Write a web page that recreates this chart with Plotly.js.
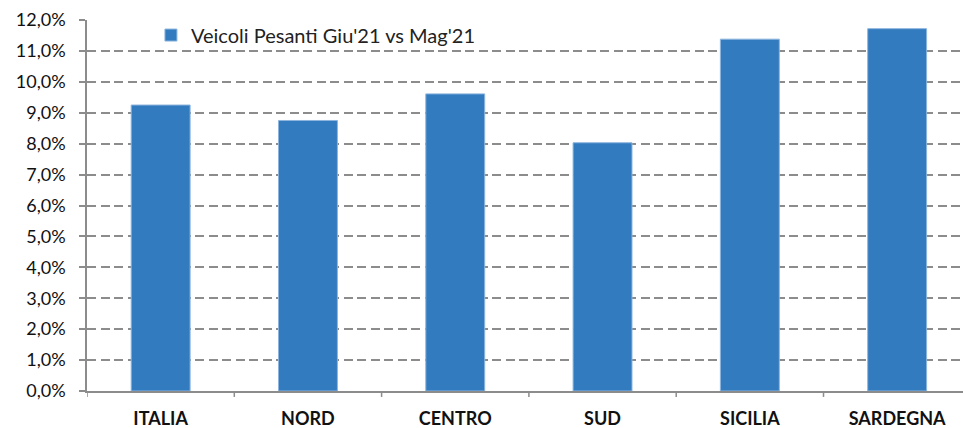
<!DOCTYPE html>
<html><head><meta charset="utf-8">
<script src="https://cdn.plot.ly/plotly-3.0.1.min.js"></script>
<style>body{margin:0;background:#fff}#c{width:963px;height:428px}</style>
</head><body><div id="c"></div>
<script>
const categories = ["ITALIA","NORD","CENTRO","SUD","SICILIA","SARDEGNA"];
const values = [0.0925, 0.0875, 0.0961, 0.0803, 0.1138, 0.1172];
const seriesName = "Veicoli Pesanti Giu'21 vs Mag'21";
const yTickVals = [0,0.01,0.02,0.03,0.04,0.05,0.06,0.07,0.08,0.09,0.10,0.11,0.12];
const yTickText = yTickVals.map(v => (v*100).toFixed(1).replace('.', ',') + '%');

const tickShapes = [];
for (let i = 0; i < categories.length; i++) {
  tickShapes.push({
    type: 'line', xref: 'x', yref: 'paper', x0: i - 0.5, x1: i - 0.5, y0: 0, y1: -0.016,
    line: {color: '#8c8c8c', width: 1.5}
  });
}

Plotly.newPlot('c', [{
  type: 'bar', x: categories, y: values, name: seriesName,
  marker: {color: '#327BBF', line: {color: '#8DB5DE', width: 1}},
  showlegend: true
}], {
  width: 963, height: 428,
  margin: {l: 87, r: 0, t: 20, b: 37},
  paper_bgcolor: '#fff', plot_bgcolor: '#fff',
  bargap: 0.6,
  font: {family: 'Lato, sans-serif', color: '#111'},
  xaxis: {
    range: [-0.5, 5.447],
    showline: true, linecolor: '#8c8c8c', linewidth: 1.5,
    ticks: '', tickfont: {size: 18, family: 'Lato', weight: 'bold', color: '#111'},
    ticklabelstandoff: 11, showgrid: false
  },
  yaxis: {
    range: [0, 0.12], tickvals: yTickVals, ticktext: yTickText,
    showline: true, linecolor: '#8c8c8c', linewidth: 1.5,
    ticks: 'outside', ticklen: 6, tickcolor: '#8c8c8c', tickwidth: 1.5,
    tickfont: {size: 18, color: '#111'}, ticklabelstandoff: 10,
    showgrid: true, gridcolor: '#8c8c8c', gridwidth: 1.5, griddash: '9px,4.5px',
    zeroline: false
  },
  shapes: tickShapes,
  legend: {x: 0.073, y: 1.012, xanchor: 'left', yanchor: 'top',
    bgcolor: 'rgba(0,0,0,0)', font: {size: 20, color: '#222'}}
}, {displayModeBar: false});
</script></body></html>
